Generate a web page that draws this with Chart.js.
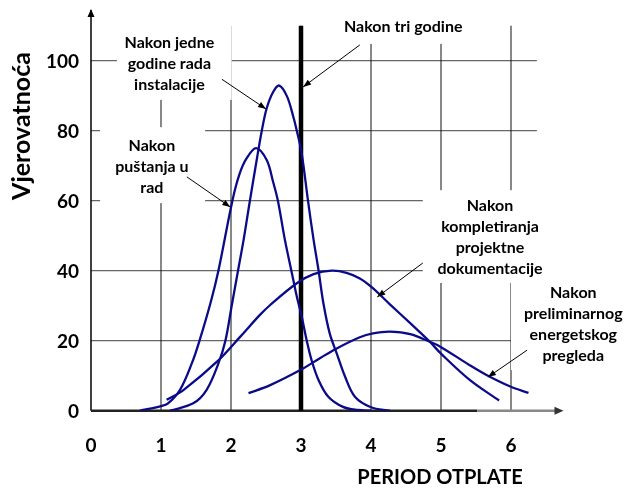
<!DOCTYPE html>
<html>
<head>
<meta charset="utf-8">
<script src="https://cdn.jsdelivr.net/npm/chart.js@4"></script>
<style>
  html, body { margin: 0; padding: 0; background: #fff; }
  #wrap { width: 628px; height: 488px; }
</style>
</head>
<body>
<div id="wrap"><canvas id="chart" width="628" height="488"></canvas></div>
<script>
// values
const xTicks = [0, 1, 2, 3, 4, 5, 6];
const yTicks = [0, 20, 40, 60, 80, 100];

const pustanjaX = [0.70, 1.0, 1.10, 1.27, 1.44, 1.55, 1.71, 1.82, 2.02, 2.12, 2.22, 2.36, 2.51, 2.60, 2.67, 2.77, 2.87, 2.94, 3.01, 3.08, 3.15, 3.25, 3.39, 3.60, 3.81, 4.0];
const pustanjaY = [0, 1.3, 2.1, 5.9, 13.5, 20, 31, 40, 60, 67.5, 72, 75, 71.6, 65.5, 60, 48.8, 39.3, 32.6, 26.9, 20.2, 14.5, 8.8, 4, 1.1, 0.2, 0];

const jedneX = [1.13, 1.46, 1.65, 1.82, 1.92, 2.01, 2.10, 2.18, 2.27, 2.37, 2.44, 2.51, 2.60, 2.69, 2.80, 2.89, 2.94, 3.01, 3.10, 3.18, 3.25, 3.32, 3.41, 3.51, 3.63, 3.77, 4.0, 4.27];
const jedneY = [0, 2.1, 5.9, 13.5, 20, 30, 40, 48.8, 60, 72, 80, 86.4, 91, 92.9, 89.8, 84, 80, 73.5, 60, 48.8, 40.2, 30.7, 22.1, 16.4, 9.7, 4, 1, 0];

const kompletX = [1.08, 1.32, 1.80, 2.13, 2.41, 2.56, 2.94, 3.18, 3.44, 3.65, 3.84, 4.01, 4.27, 4.56, 4.84, 5.0, 5.41, 5.83];
const kompletY = [3.1, 5.9, 14, 21.1, 27.3, 30.2, 36.4, 39, 40, 39.4, 37.8, 35.3, 30.4, 25, 19.7, 16.3, 8.8, 2.9];

const pregledX = [2.25, 2.56, 2.99, 3.27, 3.51, 3.84, 4.03, 4.27, 4.56, 4.84, 4.99, 5.41, 5.65, 5.99, 6.25];
const pregledY = [5, 7.3, 11.6, 15, 17.8, 21, 22.1, 22.6, 21.9, 19.7, 18.3, 13, 10.2, 6.9, 5.1];

const triX = [3, 3];
const triY = [0, 110];

function toPoints(xs, ys) {
  return xs.map((x, i) => ({ x: x, y: ys[i] }));
}

// callouts (data coords), white boxes hide the grid behind them
const notes = [
  { lines: ['Nakon jedne', 'godine rada', 'instalacije'], x: 1.12, y: 105, box: [0.37, 112, 2.01, 88.8], arrow: [1.87, 94.7, 2.5, 86.2] },
  { lines: ['Nakon', 'puštanja u', 'rad'], x: 0.87, y: 75.6, box: [0.13, 81, 1.63, 59.3], arrow: [1.37, 66.8, 1.99, 58.2] },
  { lines: ['Nakon tri godine'], x: 4.46, y: 109.6, box: [3.41, 116, 5.63, 104.8], arrow: [3.84, 104.5, 3.03, 92.5] },
  { lines: ['Nakon', 'kompletiranja', 'projektne', 'dokumentacije'], x: 5.7, y: 58.5, box: [4.74, 63, 6.9, 36.5], arrow: [4.74, 42.2, 4.09, 32.5] },
  { lines: ['Nakon', 'preliminarnog', 'energetskog', 'pregleda'], x: 6.89, y: 33.6, box: [6.0, 36.5, 7.8, 11.6], arrow: [6.23, 17.3, 5.67, 9.6] }
];

const FONT = 'Lato, "Liberation Sans", sans-serif';
const navy = '#0b0b8a';

function arrowHead(ctx, x1, y1, x2, y2, len, wid) {
  const a = Math.atan2(y2 - y1, x2 - x1);
  ctx.beginPath();
  ctx.moveTo(x2, y2);
  ctx.lineTo(x2 - len * Math.cos(a) + wid * Math.sin(a), y2 - len * Math.sin(a) - wid * Math.cos(a));
  ctx.lineTo(x2 - len * Math.cos(a) - wid * Math.sin(a), y2 - len * Math.sin(a) + wid * Math.cos(a));
  ctx.closePath();
  ctx.fill();
}

const decor = {
  id: 'decor',
  beforeDatasetsDraw(chart) {
    const ctx = chart.ctx;
    const xs = chart.scales.x, ys = chart.scales.y;
    const px = v => xs.getPixelForValue(v);
    const py = v => ys.getPixelForValue(v);
    ctx.save();
    // grid
    ctx.strokeStyle = '#666';
    ctx.lineWidth = 1.3;
    yTicks.slice(1).forEach(t => {
      ctx.beginPath();
      ctx.moveTo(px(0), py(t));
      ctx.lineTo(px(6.37), py(t));
      ctx.stroke();
    });
    ctx.strokeStyle = '#111';
    ctx.lineWidth = 1;
    xTicks.slice(1).forEach(t => {
      ctx.beginPath();
      ctx.moveTo(px(t), py(0));
      ctx.lineTo(px(t), py(110));
      ctx.stroke();
    });
    // white label boxes
    ctx.fillStyle = '#fff';
    notes.forEach(n => {
      const b = n.box;
      ctx.fillRect(px(b[0]), py(b[1]), px(b[2]) - px(b[0]), py(b[3]) - py(b[1]));
    });
    // axes
    ctx.strokeStyle = '#000';
    ctx.fillStyle = '#000';
    ctx.lineWidth = 1.5;
    ctx.beginPath();
    ctx.moveTo(px(0), py(0));
    ctx.lineTo(px(0), py(114.5));
    ctx.stroke();
    arrowHead(ctx, px(0), py(0), px(0), py(114.8), 8, 3.5);
    ctx.lineWidth = 2.5;
    ctx.strokeStyle = '#222';
    ctx.beginPath();
    ctx.moveTo(px(0), py(0));
    ctx.lineTo(px(5.52), py(0));
    ctx.stroke();
    ctx.strokeStyle = '#888';
    ctx.beginPath();
    ctx.moveTo(px(5.52), py(0));
    ctx.lineTo(px(6.68), py(0));
    ctx.stroke();
    ctx.fillStyle = '#333';
    arrowHead(ctx, px(0), py(0), px(6.75), py(0), 9, 4);
    ctx.restore();
  },
  afterDatasetsDraw(chart) {
    const ctx = chart.ctx;
    const xs = chart.scales.x, ys = chart.scales.y;
    const px = v => xs.getPixelForValue(v);
    const py = v => ys.getPixelForValue(v);
    ctx.save();
    ctx.fillStyle = '#000';
    ctx.strokeStyle = '#000';
    // tick labels
    ctx.font = 'bold 19px ' + FONT;
    ctx.textAlign = 'right';
    ctx.textBaseline = 'middle';
    yTicks.forEach(t => ctx.fillText(String(t), px(0) - 12, py(t) + 1));
    ctx.textAlign = 'center';
    xTicks.forEach(t => ctx.fillText(String(t), px(t), py(0) + 35));
    // axis titles
    ctx.font = 'bold 20px ' + FONT;
    ctx.fillText('PERIOD OTPLATE', 440, 478);
    ctx.save();
    ctx.translate(22, 126);
    ctx.rotate(-Math.PI / 2);
    ctx.font = 'bold 25px ' + FONT;
    ctx.fillText('Vjerovatnoća', 0, 0);
    ctx.restore();
    // callouts
    ctx.font = 'bold 16px ' + FONT;
    notes.forEach(n => {
      n.lines.forEach((l, i) => ctx.fillText(l, px(n.x), py(n.y) + i * 20.8));
      const a = n.arrow;
      const x1 = px(a[0]), y1 = py(a[1]), x2 = px(a[2]), y2 = py(a[3]);
      ctx.lineWidth = 1;
      ctx.beginPath();
      ctx.moveTo(x1, y1);
      ctx.lineTo(x2, y2);
      ctx.stroke();
      arrowHead(ctx, x1, y1, x2, y2, 8, 3);
    });
    ctx.restore();
  }
};

const curveStyle = {
  borderColor: navy,
  borderWidth: 2.3,
  pointRadius: 0,
  fill: false,
  tension: 0.35
};

new Chart(document.getElementById('chart').getContext('2d'), {
  type: 'line',
  data: {
    datasets: [
      Object.assign({ label: 'Nakon puštanja u rad', data: toPoints(pustanjaX, pustanjaY) }, curveStyle),
      Object.assign({ label: 'Nakon jedne godine rada instalacije', data: toPoints(jedneX, jedneY) }, curveStyle),
      Object.assign({ label: 'Nakon kompletiranja projektne dokumentacije', data: toPoints(kompletX, kompletY) }, curveStyle),
      Object.assign({ label: 'Nakon preliminarnog energetskog pregleda', data: toPoints(pregledX, pregledY) }, curveStyle),
      { label: 'Nakon tri godine', data: toPoints(triX, triY), borderColor: '#000', borderWidth: 4.5, pointRadius: 0, fill: false }
    ]
  },
  options: {
    responsive: false,
    animation: false,
    devicePixelRatio: 1,
    layout: { padding: { left: 91, right: 64.5, top: 8.2, bottom: 77.3 } },
    scales: {
      x: { type: 'linear', min: 0, max: 6.75, display: false },
      y: { type: 'linear', min: 0, max: 115, display: false }
    },
    plugins: { legend: { display: false }, tooltip: { enabled: false } }
  },
  plugins: [decor]
});
</script>
</body>
</html>
